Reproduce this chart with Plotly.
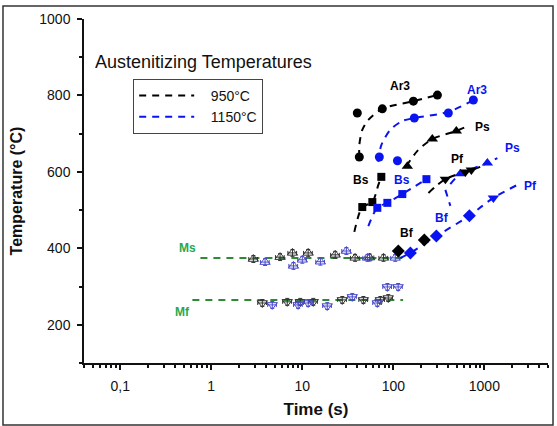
import math
import plotly.graph_objects as go

# ---------------- data (time in s, temperature in °C) ----------------
# 950 °C austenitizing (black)
ar3_950_t = [40.2, 42.3, 75.7, 166, 305]
ar3_950_T = [754, 639, 765, 785, 801]
ar3_950_fit_t = [42.3, 42.3, 45.6, 53.1, 75.7, 166, 305]
ar3_950_fit_T = [639, 670, 710, 736, 765, 785, 801]

ps_950_t = [142.5, 268, 492]
ps_950_T = [615, 686, 707]
ps_950_fit_t = [139, 184, 268, 492, 618]
ps_950_fit_T = [615, 655, 686, 707, 717]

pf_950_t = [373, 618, 719]
pf_950_T = [581, 600, 605]
pf_950_fit_t = [243, 373, 719, 951]
pf_950_fit_T = [545, 581, 605, 615]

bs_950_t = [45.6, 58.8, 73.8]
bs_950_T = [508, 521, 587]
bs_950_fit_t = [37.3, 45.6, 58.8, 68.4, 73.8]
bs_950_fit_T = [443, 508, 521, 566, 587]

bf_950_t = [113.5, 219]
bf_950_T = [393, 422]

# 1150 °C austenitizing (blue)
ar3_1150_t = [70.2, 111, 170, 402, 757]
ar3_1150_T = [639, 629, 741, 754, 788]
ar3_1150_fit_t = [68.4, 73.8, 92.7, 125.5, 170, 402, 757]
ar3_1150_fit_T = [626, 670, 710, 733, 741, 757, 788]

bs_1150_t = [66.7, 86, 125.5, 231]
bs_1150_T = [506, 519, 542, 581]
bs_1150_fit_t = [53.1, 66.7, 86, 125.5, 231]
bs_1150_fit_T = [458, 506, 519, 542, 581]

ps_1150_t = [545, 1079]
ps_1150_T = [595, 623]
ps_1150_fit_t = [423, 545, 1079, 1390]
ps_1150_fit_T = [568, 595, 623, 636]

pf_1150_t = [1256]
pf_1150_T = [532]

bf_1150_t = [154, 297, 684]
bf_1150_T = [388, 432, 485]
bf_1150_fit_t = [119, 154, 297, 684, 951, 1256, 2300]
bf_1150_fit_T = [375, 388, 432, 485, 511, 532, 566]

seg_t = [373, 423]
seg_T = [553, 511]

# Martensite start / finish
ms_950_t = [2.9, 5.7, 7.8, 11.6, 23, 38, 55, 78]
ms_950_T = [372, 377, 388, 388, 383, 375, 376, 375]
ms_1150_t = [3.9, 8.0, 10, 15.8, 30.5, 52, 105]
ms_1150_T = [364, 354, 370, 365, 393, 375, 375]
mf_950_t = [3.64, 6.84, 9.5, 13.2, 27.5, 46.9, 72, 88]
mf_950_T = [257, 260, 260, 260, 265, 265, 265, 270]
mf_1150_t = [4.68, 9.0, 11.6, 18.8, 35.4, 66.7, 86, 113]
mf_1150_T = [252, 252, 257, 249, 273, 257, 299, 299]
ms_line_t = [0.76, 146]
ms_line_T = [375, 375]
mf_line_t = [0.62, 128]
mf_line_T = [265, 265]

x_tickvals = [0.1, 1, 10, 100, 1000]
x_ticktext = ["0,1", "1", "10", "100", "1000"]

BLACK = "#000000"
BLUE = "#0a14f0"
OPEN_BLUE = "#4a4acc"
GREEN_LINE = "#2f8a36"
GREEN_TXT = "#1faa4f"
NB = "\u00a0"

fig = go.Figure()

def dashed(t, T, color, name=None, show=False, shape="spline"):
    fig.add_trace(go.Scatter(x=t, y=T, mode="lines", name=name, showlegend=show,
                             line=dict(color=color, width=2, dash="7px,6px", shape=shape,
                                       smoothing=0.8),
                             hoverinfo="skip"))

def marks(t, T, color, symbol, size=9):
    fig.add_trace(go.Scatter(x=t, y=T, mode="markers", showlegend=False,
                             marker=dict(color=color, symbol=symbol, size=size,
                                         line=dict(width=0))))

def open_marks(t, T, color, symbol):
    fig.add_trace(go.Scatter(x=t, y=T, mode="markers", showlegend=False,
                             marker=dict(color=color, symbol=symbol, size=9,
                                         line=dict(width=1, color=color)),
                             error_y=dict(type="constant", value=9, color=color,
                                          thickness=1, width=2),
                             error_x=dict(type="percent", value=11, color=color,
                                          thickness=1, width=2)))

# Ms / Mf lines and markers
dashed(ms_line_t, ms_line_T, GREEN_LINE, shape="linear")
dashed(mf_line_t, mf_line_T, GREEN_LINE, shape="linear")
open_marks(ms_950_t, ms_950_T, "#333333", "triangle-up-open")
open_marks(ms_1150_t, ms_1150_T, OPEN_BLUE, "triangle-up-open")
open_marks(mf_950_t, mf_950_T, "#333333", "triangle-down-open")
open_marks(mf_1150_t, mf_1150_T, OPEN_BLUE, "triangle-down-open")

# fitted dashed curves
dashed(ar3_950_fit_t, ar3_950_fit_T, BLACK, NB * 3 + "950°C", True)
dashed(ar3_1150_fit_t, ar3_1150_fit_T, BLUE, NB * 3 + "1150°C", True)
dashed(ps_950_fit_t, ps_950_fit_T, BLACK)
dashed(pf_950_fit_t, pf_950_fit_T, BLACK)
dashed(bs_950_fit_t, bs_950_fit_T, BLACK)
dashed(bs_1150_fit_t, bs_1150_fit_T, BLUE)
dashed(ps_1150_fit_t, ps_1150_fit_T, BLUE)
dashed(bf_1150_fit_t, bf_1150_fit_T, BLUE)
dashed(seg_t, seg_T, BLUE, shape="linear")

# filled markers
marks(ar3_950_t, ar3_950_T, BLACK, "circle", 9)
marks(ar3_1150_t, ar3_1150_T, BLUE, "circle", 9)
marks(ps_950_t, ps_950_T, BLACK, "triangle-up", 10)
marks(ps_1150_t, ps_1150_T, BLUE, "triangle-up", 10)
marks(pf_950_t, pf_950_T, BLACK, "triangle-down", 10)
marks(pf_1150_t, pf_1150_T, BLUE, "triangle-down", 10)
marks(bs_950_t, bs_950_T, BLACK, "square", 8)
marks(bs_1150_t, bs_1150_T, BLUE, "square", 8)
marks(bf_950_t, bf_950_T, BLACK, "diamond", 10)
marks(bf_1150_t, bf_1150_T, BLUE, "diamond", 10)

# text labels
labels = [
    ("Ar3", 119, 825, BLACK), ("Ar3", 838, 814, BLUE),
    ("Ps", 951, 717, BLACK), ("Pf", 505, 634, BLACK),
    ("Bs", 44.5, 579, BLACK), ("Bs", 125.6, 579, BLUE),
    ("Ps", 2032, 662, BLUE), ("Pf", 3200, 563, BLUE),
    ("Bf", 345, 479, BLUE), ("Bf", 142.5, 440, BLACK),
    ("Ms", 0.545, 401, GREEN_TXT), ("Mf", 0.48, 233, GREEN_TXT),
]
for txt, t, T, c in labels:
    fig.add_annotation(x=math.log10(t), y=T, text=f"<b>{txt}</b>", showarrow=False,
                       font=dict(family="Arial, Liberation Sans", size=12, color=c))

fig.add_annotation(xref="paper", yref="paper", x=0.019, y=0.875, xanchor="left",
                   yanchor="middle", text="Austenitizing Temperatures", showarrow=False,
                   font=dict(family="Arial, Liberation Sans", size=18, color="#111"))

# outer frame
fig.add_shape(type="rect", xref="paper", yref="paper", x0=-0.1746, x1=1.0108,
              y0=-0.180, y1=1.0378, line=dict(color="#333", width=1.5))

fig.update_layout(
    width=557, height=426,
    margin=dict(l=84, r=9, t=19, b=63, autoexpand=False),
    paper_bgcolor="white", plot_bgcolor="white",
    font=dict(family="Arial, Liberation Sans", size=14, color="#111"),
    legend=dict(x=0.106, y=0.826, xanchor="left", yanchor="top",
                bgcolor="white", bordercolor="#444", borderwidth=1,
                font=dict(size=14), tracegroupgap=0, itemwidth=55),
)
fig.update_xaxes(type="log", range=[math.log10(0.04), math.log10(5000)],
                 automargin=False, ticklabelstandoff=4,
                 tickmode="array", tickvals=x_tickvals, ticktext=x_ticktext,
                 ticks="outside", ticklen=5, tickwidth=1.5, tickcolor="#111",
                 showline=True, linecolor="#111", linewidth=1.5, showgrid=False,
                 zeroline=False,
                 minor=dict(ticks="outside", ticklen=3, dtick="D1", tickcolor="#111",
                            showgrid=False),
                 title=dict(text="<b>Time (s)</b>", font=dict(size=17), standoff=11))
fig.update_yaxes(range=[100, 1000], tickmode="linear", tick0=200, dtick=200,
                 automargin=False, ticklabelstandoff=4,
                 ticks="outside", ticklen=5, tickwidth=1.5, tickcolor="#111",
                 showline=True, linecolor="#111", linewidth=1.5, showgrid=False,
                 zeroline=False,
                 minor=dict(ticks="outside", ticklen=3, dtick=100, tickcolor="#111",
                            showgrid=False),
                 title=dict(text="<b>Temperature (°C)</b>", font=dict(size=16), standoff=13))

fig.write_html("out.html", config={"displayModeBar": False},
               post_script="document.body.style.margin='0';document.body.style.overflow='hidden';")
